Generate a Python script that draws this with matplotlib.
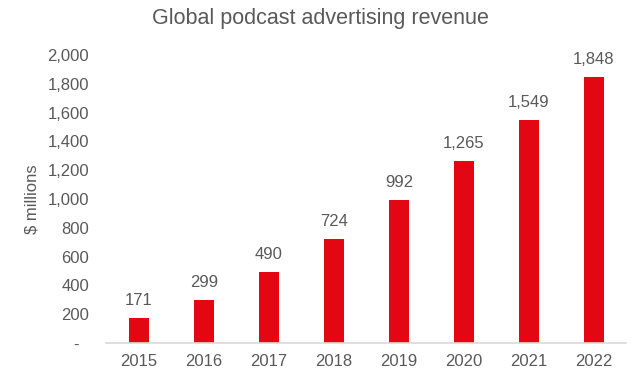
import matplotlib.pyplot as plt

years = ["2015", "2016", "2017", "2018", "2019", "2020", "2021", "2022"]
revenue = [171, 299, 490, 724, 992, 1265, 1549, 1848]
y_ticks = [0, 200, 400, 600, 800, 1000, 1200, 1400, 1600, 1800, 2000]

plt.rcParams['font.family'] = ['Liberation Sans', 'DejaVu Sans']
grey = "#595959"

fig = plt.figure(figsize=(6.32, 3.75), dpi=100)
ax = fig.add_axes([0.1685, 0.0853, 0.8225, 0.768])

x = range(len(years))
ax.bar(x, revenue, width=0.31, color="#E30613")

# value labels above bars
for i, v in enumerate(revenue):
    ax.text(i, v + 70, f"{v:,}", ha="center", va="bottom", fontsize=12, color=grey)

ax.set_xlim(-0.5, len(years) - 0.5)
ax.set_ylim(0, 2000)
ax.set_xticks(list(x))
ax.set_xticklabels(years)
ax.set_yticks(y_ticks)
ax.set_yticklabels(["-  "] + [f"{t:,}" for t in y_ticks[1:]])
ax.tick_params(axis="both", length=0, labelsize=12, colors=grey)
ax.tick_params(axis="y", pad=12.5)
ax.tick_params(axis="x", pad=8)

for s in ["top", "right", "left"]:
    ax.spines[s].set_visible(False)
ax.spines["bottom"].set_color("#d9d9d9")
ax.spines["bottom"].set_linewidth(1.2)

fig.text(32 / 632, 1 - 199 / 375, "$ millions", rotation=90, ha="center", va="center",
         fontsize=12, color=grey)
fig.text(0.507, 0.95, "Global podcast advertising revenue", ha="center", va="center",
         fontsize=15.5, color=grey)

fig.savefig("out.png", dpi=100)
